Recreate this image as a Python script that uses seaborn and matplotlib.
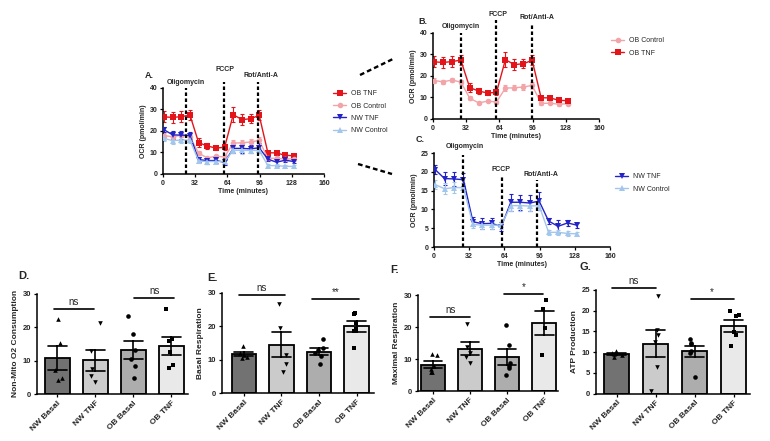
import numpy as np
import pandas as pd
import seaborn as sns
import matplotlib.pyplot as plt
from matplotlib.lines import Line2D

sns.set_style("ticks")
plt.rcParams['font.family'] = ['Liberation Sans', 'DejaVu Sans']
np.random.seed(3)

# ---- OCR time course (Seahorse) ----
times = [1, 9.6, 18.2, 26.8, 35.4, 44, 52.6, 61.2, 69.8, 78.4, 87, 95.6, 104.2, 112.8, 121.4, 130]
ob_tnf = [26.6, 26.3, 26.7, 27.4, 14.6, 13.0, 12.1, 12.4, 27.6, 25.3, 25.7, 27.3, 9.9, 9.8, 8.7, 8.5]
ob_tnf_err = [2.6, 2.5, 2.6, 2.5, 2.0, 1.2, 1.0, 1.4, 3.4, 2.5, 2.2, 2.3, 1.0, 0.8, 0.8, 0.9]
ob_ctrl = [17.9, 17.3, 18.1, 17.2, 9.7, 7.5, 8.3, 7.9, 14.4, 14.5, 14.9, 15.6, 7.3, 7.3, 6.9, 7.1]
ob_ctrl_err = [1.2, 0.8, 0.9, 1.0, 0.8, 0.6, 0.6, 0.7, 1.4, 1.2, 1.3, 1.5, 0.6, 0.5, 0.7, 0.6]
nw_tnf = [20.6, 18.2, 18.1, 17.9, 6.7, 6.2, 6.3, 5.4, 11.9, 11.9, 11.7, 12.2, 6.9, 5.5, 6.4, 5.8]
nw_tnf_err = [1.1, 1.8, 1.9, 1.7, 1.2, 1.4, 1.4, 1.2, 2.2, 2.0, 2.0, 2.3, 0.9, 1.7, 0.7, 0.7]
nw_ctrl = [16.6, 15.5, 15.8, 15.8, 6.0, 5.8, 5.8, 5.8, 11.0, 11.0, 10.9, 11.0, 3.9, 3.9, 3.6, 3.5]
nw_ctrl_err = [1.2, 1.4, 1.4, 1.3, 0.9, 1.0, 0.9, 0.9, 1.3, 1.5, 1.3, 1.2, 0.6, 0.7, 0.7, 0.5]

ocr = {'OB TNF': ob_tnf, 'OB Control': ob_ctrl, 'NW TNF': nw_tnf, 'NW Control': nw_ctrl}
ocr_err = {'OB TNF': ob_tnf_err, 'OB Control': ob_ctrl_err, 'NW TNF': nw_tnf_err, 'NW Control': nw_ctrl_err}
line_colors = {'OB TNF': '#e3151b', 'OB Control': '#f2a4a8', 'NW TNF': '#2323c8', 'NW Control': '#a2c6ec'}
line_markers = {'OB TNF': 's', 'OB Control': 'o', 'NW TNF': 'v', 'NW Control': '^'}
injections = ['Oligomycin', 'FCCP', 'Rot/Anti-A']

# ---- bar panels: individual donors ----
groups = ['NW Basal', 'NW TNF', 'OB Basal', 'OB TNF']
bar_colors = {'NW Basal': '#727272', 'NW TNF': '#cbcbcb', 'OB Basal': '#adadad', 'OB TNF': '#e9e9e9'}
group_markers = {'NW Basal': '^', 'NW TNF': 'v', 'OB Basal': 'o', 'OB TNF': 's'}

nonmito = {'NW Basal': [22.5, 15.4, 7.2, 4.2, 4.9],
           'NW TNF': [21.2, 12.9, 7.4, 5.4, 3.7],
           'OB Basal': [23.4, 18.0, 13.3, 10.5, 8.5, 5.0],
           'OB TNF': [25.4, 16.4, 15.9, 12.6, 7.7, 8.7]}
basal = {'NW Basal': [14.2, 12.0, 11.3, 10.8, 10.4],
         'NW TNF': [26.6, 19.3, 11.5, 8.8, 6.3],
         'OB Basal': [16.2, 13.5, 12.8, 12.0, 11.0, 8.6],
         'OB TNF': [23.8, 23.5, 21.0, 19.2, 18.5, 13.5]}
maximal = {'NW Basal': [11.7, 11.3, 8.0, 7.0, 6.0, 5.9],
           'NW TNF': [21.0, 13.8, 12.0, 10.6, 8.9],
           'OB Basal': [20.6, 14.4, 8.8, 7.2, 8.0, 5.0],
           'OB TNF': [28.4, 25.6, 19.6, 11.4]}
atp = {'NW Basal': [10.3, 9.9, 9.6, 9.3, 8.9],
       'NW TNF': [23.4, 15.2, 14.0, 12.5, 6.5, 0.7],
       'OB Basal': [13.2, 12.2, 11.9, 9.8, 10.2, 4.1],
       'OB TNF': [20.0, 19.0, 18.6, 14.8, 14.0, 11.4]}

W, H = 770, 441
fig = plt.figure(figsize=(W / 100, H / 100), dpi=100)


def px_axes(left, top, right, bottom):
    return fig.add_axes([left / W, 1 - bottom / H, (right - left) / W, (bottom - top) / H])


def style_axes(ax, size):
    sns.despine(ax=ax)
    for s in ('left', 'bottom'):
        ax.spines[s].set_color('black')
        ax.spines[s].set_linewidth(1.1)
    ax.tick_params(labelsize=size, width=0.9, length=2.5, pad=1.5, color='black')
    for t in ax.get_xticklabels() + ax.get_yticklabels():
        t.set_fontweight('bold')


def ocr_panel(ax, names, ylim, yticks, inj_x, inj_top, lab_x, lab_y, leg_xy):
    df = pd.concat([pd.DataFrame({'Time': times, 'OCR': ocr[n], 'Group': n}) for n in names])
    sns.lineplot(data=df, x='Time', y='OCR', hue='Group', style='Group',
                 hue_order=names, style_order=names, palette=line_colors,
                 markers=line_markers, dashes=False, markersize=4, linewidth=1,
                 markeredgewidth=0, errorbar=None, ax=ax, zorder=3)
    for n in names:
        ax.errorbar(times, ocr[n], yerr=ocr_err[n], fmt='none', ecolor=line_colors[n],
                    elinewidth=0.8, capsize=1.5, capthick=0.8, zorder=2)
    for x, top, lx, ly, name in zip(inj_x, inj_top, lab_x, lab_y, injections):
        ax.plot([x, x], [0, top], color='black', lw=1.6, ls=(0, (1.6, 1.1)), clip_on=False, zorder=4)
        ax.text(lx, ly, name, ha='center', va='center', fontsize=5, fontweight='bold')
    ax.set_xlim(0, 160)
    ax.set_xticks([0, 32, 64, 96, 128, 160])
    ax.set_ylim(*ylim)
    ax.set_yticks(yticks)
    ax.set_xlabel('Time (minutes)', fontsize=5, fontweight='bold', labelpad=1)
    ax.set_ylabel('OCR (pmol/min)', fontsize=5, fontweight='bold', labelpad=2)
    leg = ax.get_legend()
    handles = leg.legend_handles
    labels = [t.get_text() for t in leg.get_texts()]
    leg.remove()
    ax.legend(handles, labels, loc='upper left', bbox_to_anchor=(leg_xy[0] / W, 1 - leg_xy[1] / H),
              bbox_transform=fig.transFigure, frameon=False, fontsize=5,
              handlelength=1.8, handletextpad=0.7, labelspacing=0.75, borderpad=0)
    style_axes(ax, 5)


def bar_panel(ax, pts, ylim, yticks, ylabel, xlim, sig):
    df = pd.DataFrame({'Group': [g for g in groups for _ in pts[g]],
                       'Value': [v for g in groups for v in pts[g]]})
    sns.barplot(data=df, x='Group', y='Value', hue='Group', order=groups, hue_order=groups,
                palette=bar_colors, legend=False, errorbar='se', capsize=0.5,
                err_kws={'color': 'black', 'linewidth': 1.2}, edgecolor='black',
                linewidth=1.3, width=0.65, ax=ax)
    for g in groups:
        sns.stripplot(x=[g] * len(pts[g]), y=pts[g], order=groups, marker=group_markers[g],
                      color='black', size=3.3, jitter=0.14, ax=ax, zorder=3)
    for label, x0, x1, y in sig:
        ax.plot([x0, x1], [y, y], color='black', lw=1.2, clip_on=False)
        ax.annotate(label, ((x0 + x1) / 2, y), xytext=(0, 1.5), textcoords='offset points',
                    ha='center', va='bottom', fontsize=7, annotation_clip=False)
    ax.set_xlim(*xlim)
    ax.set_ylim(*ylim)
    ax.set_yticks(yticks)
    ax.set_xlabel('')
    ax.set_ylabel(ylabel, fontsize=6, fontweight='bold', labelpad=3)
    style_axes(ax, 5.5)
    for t in ax.get_xticklabels():
        t.set_rotation(45)
        t.set_ha('right')
        t.set_rotation_mode('anchor')
        t.set_fontsize(6)


# A: all four groups
axA = px_axes(163, 88, 324, 174)
ocr_panel(axA, ['OB TNF', 'OB Control', 'NW TNF', 'NW Control'], (0, 40), [0, 10, 20, 30, 40],
          [23, 61, 94], [40, 43, 43], [22.5, 61.5, 97.5], [42.5, 48.4, 46], (330, 87))

# B: obese
axB = px_axes(433, 33, 599, 119)
ocr_panel(axB, ['OB Control', 'OB TNF'], (0, 40), [0, 10, 20, 30, 40],
          [27, 61.2, 95.9], [40, 46, 44.5], [26.8, 62.3, 100.4], [42.9, 48.4, 47.3], (608, 34))

# C: normal weight
axC = px_axes(434, 153, 610, 247)
ocr_panel(axC, ['NW TNF', 'NW Control'], (0, 25), [0, 5, 10, 15, 20, 25],
          [26.4, 62, 94], [24.6, 18.8, 17.9], [28.4, 60.8, 97.4], [26.8, 20.6, 19.2], (612, 170))

# dashed connectors from A to B and C
for (x0, y0), (x1, y1) in [((360, 75), (395, 58)), ((358, 164), (392, 174))]:
    fig.add_artist(Line2D([x0 / W, x1 / W], [1 - y0 / H, 1 - y1 / H], transform=fig.transFigure,
                          color='black', lw=1.7, ls=(0, (2, 1.3))))

axD = px_axes(37, 293.5, 188, 394.3)
bar_panel(axD, nonmito, (0, 30), [0, 10, 20, 30], 'Non-Mito O2 Consumption', (-0.54, 3.44),
          [('ns', -0.1, 0.95, 25.4), ('ns', 2.02, 3.08, 28.7)])

axE = px_axes(222, 292.7, 374, 393)
bar_panel(axE, basal, (0, 30), [0, 10, 20, 30], 'Basal Respiration', (-0.58, 3.46),
          [('ns', -0.14, 1.1, 29.3), ('**', 1.82, 3.06, 28.2)])

axF = px_axes(418, 295, 558, 391.3)
bar_panel(axF, maximal, (0, 30), [0, 10, 20, 30], 'Maximal Respiration', (-0.4, 3.37),
          [('ns', -0.07, 1.0, 23.1), ('*', 1.92, 2.96, 30.2)])

axG = px_axes(596, 289.7, 750, 393.7)
bar_panel(axG, atp, (0, 25), [0, 5, 10, 15, 20, 25], 'ATP Production', (-0.53, 3.42),
          [('ns', -0.11, 1.0, 25.4), ('*', 1.9, 3.0, 22.7)])

for letter, x, y, size in [('A.', 145, 76, 6.5), ('B.', 418, 21, 6.5), ('C.', 416, 140, 6.5),
                           ('D.', 18, 276, 8), ('E.', 207, 278, 8), ('F.', 390, 270, 8),
                           ('G.', 580, 267, 8)]:
    fig.text(x / W, 1 - y / H, letter, ha='left', va='center', fontsize=size, fontweight='bold')

fig.savefig('out.png', dpi=100, facecolor='white')
